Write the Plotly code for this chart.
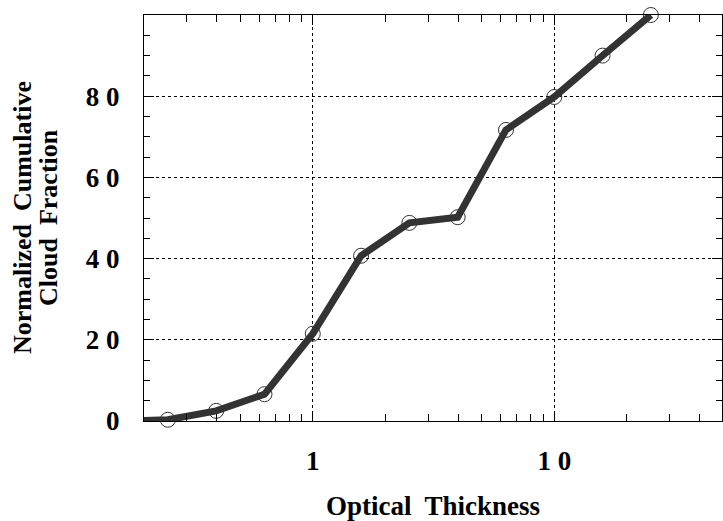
import numpy as np
import plotly.graph_objects as go

# data
optical_thickness = [0.158, 0.251, 0.398, 0.631, 1.0, 1.585, 2.512, 3.981, 6.31, 10.0, 15.85, 25.12]
cum_fraction = [0.0, 0.3, 2.5, 6.6, 21.5, 40.7, 48.8, 50.2, 71.7, 79.8, 90.0, 100.0]
x_tick_vals = [1, 10]
x_tick_text = ["1", "1 0"]
y_tick_vals = [0, 20, 40, 60, 80]
y_tick_text = ["0", "2 0", "4 0", "6 0", "8 0"]
x_title = "Optical  Thickness"
y_title_lines = ["Normalized  Cumulative", "Cloud  Fraction"]

FONT = "Liberation Serif"

fig = go.Figure()
fig.add_trace(go.Scatter(
    x=optical_thickness, y=cum_fraction, mode="lines",
    line=dict(color="#333333", width=7), showlegend=False, hoverinfo="skip"))
fig.add_trace(go.Scatter(
    x=optical_thickness[1:], y=cum_fraction[1:], mode="markers",
    marker=dict(symbol="circle-open", size=15, color="#333", line=dict(width=1)),
    showlegend=False, cliponaxis=False))

minor_x = [m * 10 ** e for e in (-1, 0, 1) for m in range(2, 10)]
minor_x = [v for v in minor_x if 0.2 <= v <= 50]

for i, (txt, shift) in enumerate(zip(y_title_lines, [-122, -96])):
    fig.add_annotation(
        text=txt, xref="paper", yref="paper", x=0, y=0.5,
        xanchor="center", yanchor="middle", xshift=shift, textangle=-90,
        showarrow=False, font=dict(family=FONT, size=26, weight="bold", color="black"))

fig.update_layout(
    width=723, height=521,
    margin=dict(l=144, r=0, t=15, b=97),
    plot_bgcolor="white", paper_bgcolor="white",
    font=dict(family=FONT, color="black", size=20),
    xaxis=dict(
        type="log", range=[np.log10(0.2), np.log10(49.5)],
        tickvals=x_tick_vals, ticktext=x_tick_text,
        ticks="inside", ticklen=10, tickcolor="black",
        showline=True, linecolor="black", linewidth=1, mirror="ticks",
        showgrid=True, gridcolor="black", griddash="dot", gridwidth=1,
        zeroline=False, ticklabelstandoff=16,
        tickfont=dict(family=FONT, size=27, weight="bold"),
        minor=dict(tickvals=minor_x, ticks="inside", ticklen=7, tickcolor="black", showgrid=False),
        title=dict(text=x_title, font=dict(family=FONT, size=27, weight="bold"), standoff=26),
    ),
    yaxis=dict(
        range=[0, 100],
        tickvals=y_tick_vals, ticktext=y_tick_text,
        ticks="inside", ticklen=10, tickcolor="black",
        showline=True, linecolor="black", linewidth=1, mirror="ticks",
        showgrid=True, gridcolor="black", griddash="dot", gridwidth=1,
        zeroline=False, ticklabelstandoff=18,
        tickfont=dict(family=FONT, size=27, weight="bold"),
        minor=dict(dtick=5, ticks="inside", ticklen=6, tickcolor="black", showgrid=False),
    ),
)
fig.write_html("out.html", config={"displayModeBar": False},
               post_script="document.body.style.margin='0';")
